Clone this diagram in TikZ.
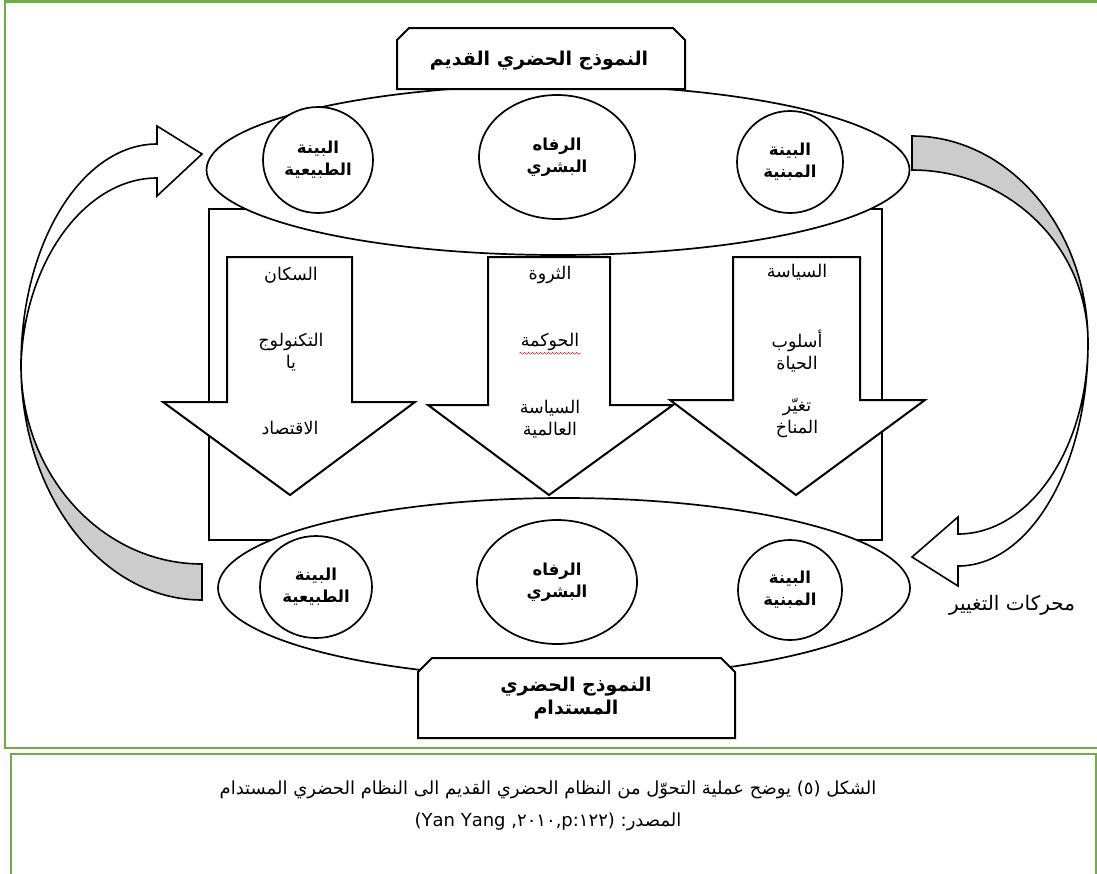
\documentclass[tikz,border=0pt]{standalone}
\usepackage{fontspec}
\newfontfamily\arb[Script=Arabic]{DejaVu Sans}
\TeXXeTstate=1
\usetikzlibrary{shapes.geometric, decorations.pathmorphing}
\definecolor{framegreen}{RGB}{112,173,71}
\definecolor{bandgrey}{RGB}{204,204,204}
\newcommand{\rl}[1]{\beginR #1\endR}
\tikzset{
  frame/.style={draw=framegreen, line width=2.5pt},
  zone/.style={draw, ellipse, line width=1.7pt, fill=white, inner sep=0pt},
  unit/.style={zone, font=\arb\bfseries\fontsize{16.5}{22}\selectfont, align=center},
  flow/.style={draw, line width=2pt, fill=white, line join=miter},
  band/.style={draw, line width=1.6pt},
  tag/.style={font=\arb\fontsize{17.5}{22}\selectfont, align=center},
  title/.style={font=\arb\bfseries\fontsize{19}{23}\selectfont, align=center}
}
\begin{document}
\begin{tikzpicture}[x=1pt, y=-1pt]
  \useasboundingbox (0,0) rectangle (1097,873);
  \clip (0,0) rectangle (1097,873);
  % frames
  \draw[frame] (5,1.5) rectangle (1110,748);
  \draw[frame] (11,754) rectangle (1096,890);

  % drivers frame and block arrows
  \draw[line width=2pt] (209,209) rectangle (882,540);
  \foreach \l/\r/\sl/\sr/\tip/\sy in {227/352/163/415/290/402, 488/610/428/673/549/405, 733/860/670/925/796/400}
    \draw[flow] (\l,257) -- (\r,257) -- (\r,\sy) -- (\sr,\sy) -- (\tip,495) -- (\sl,\sy) -- (\l,\sy) -- cycle;

  \node[tag] (pop) at (291,275) {\rl{السكان}};
  \node[tag] (tech) at (291,352) {\rl{التكنولوج}\\\rl{يا}};
  \node[tag] (eco) at (290,428) {\rl{الاقتصاد}};
  \node[tag] (wealth) at (550,275) {\rl{الثروة}};
  \node[tag] (gov) at (550,342) {\rl{الحوكمة}};
  \draw[red, decorate, decoration={snake, amplitude=1pt, segment length=4pt}] ([xshift=2pt, yshift=1pt]gov.south west) -- ([xshift=-2pt, yshift=1pt]gov.south east);
  \node[tag] (world) at (550,419) {\rl{السياسة}\\\rl{العالمية}};
  \node[tag] (policy) at (797,272) {\rl{السياسة}};
  \node[tag] (life) at (797,351) {\rl{أسلوب}\\\rl{الحياة}};
  \node[tag] (climate) at (797,418) {\rl{تغيّر}\\\rl{المناخ}};

  % old model
  \node[zone, minimum width=703pt, minimum height=170pt] (oldzone) at (558,170) {};
  \node[unit, minimum width=110pt, minimum height=106pt] (oldnat) at (318,160) {\rl{البينة}\\\rl{الطبيعية}};
  \node[unit, minimum width=156pt, minimum height=124pt] (oldwel) at (557,157) {\rl{الرفاه}\\\rl{البشري}};
  \node[unit, minimum width=106pt, minimum height=102pt] (oldblt) at (790,162) {\rl{البينة}\\\rl{المبنية}};
  \draw[flow] (397,89) -- (397,40) -- (409,28) -- (673,28) -- (685,40) -- (685,89) -- cycle;
  \node[title] (oldtitle) at (539,61) {\rl{النموذج الحضري القديم}};

  % sustainable model
  \node[zone, minimum width=692pt, minimum height=180pt] (newzone) at (564,588) {};
  \node[unit, minimum width=112pt, minimum height=102pt] (newnat) at (316,587) {\rl{البينة}\\\rl{الطبيعية}};
  \node[unit, minimum width=160pt, minimum height=124pt] (newwel) at (557,582) {\rl{الرفاه}\\\rl{البشري}};
  \node[unit, minimum width=104pt, minimum height=100pt] (newblt) at (790,590) {\rl{البينة}\\\rl{المبنية}};
  \draw[flow] (418,738) -- (418,672) -- (432,658) -- (721,658) -- (735,672) -- (735,738) -- cycle;
  \node[title] (newtitle) at (576,698) {\rl{النموذج الحضري}\\\rl{المستدام}};

  % curved arrows
  \draw[band, fill=white] (157,144) .. controls (82,144) and (21,243) .. (21,365)
    .. controls (24,262) and (85,178) .. (157,178) -- (157,196) -- (202,154) -- (157,126) -- cycle;
  \draw[band, fill=bandgrey] (21,365) .. controls (21,495) and (102,600) .. (202,600)
    -- (202,564) .. controls (102,564) and (21,475) .. (21,365) -- cycle;
  \draw[band, fill=bandgrey] (912,136) .. controls (1009,136) and (1088,229) .. (1088,343)
    .. controls (1088,247) and (1009,170) .. (912,170) -- cycle;
  \draw[band, fill=white] (1088,343) .. controls (1088,466) and (1030,566) .. (958,566)
    -- (958,586) -- (912,557) -- (958,517) -- (958,534) .. controls (1030,534) and (1088,448) .. (1088,343) -- cycle;
  \node[tag, font=\arb\fontsize{20}{24}\selectfont] (drivers) at (1012,605) {\rl{محركات التغيير}};

  % caption
  \node[font=\arb\fontsize{18}{32}\selectfont, align=center] (caption) at (548,806)
    {\rl{الشكل (٥) يوضح عملية التحوّل من النظام الحضري القديم الى النظام الحضري المستدام}\\
     \beginL(Yan Yang ,٢٠١٠,p:١٢٢)\endL{} \rl{المصدر:}};
\end{tikzpicture}
\end{document}
